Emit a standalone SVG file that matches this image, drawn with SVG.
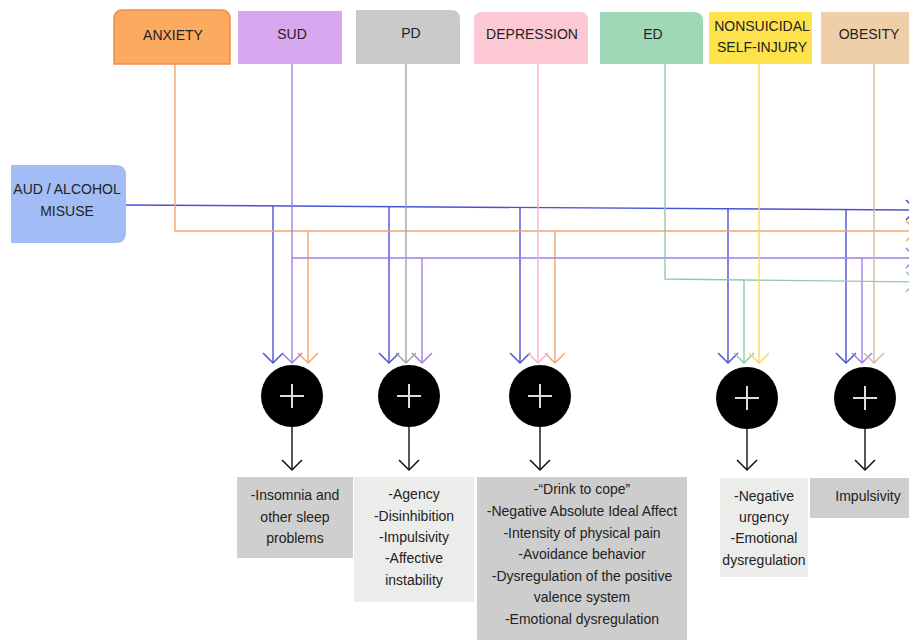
<svg xmlns="http://www.w3.org/2000/svg" width="909" height="640" viewBox="0 0 909 640">
<style>
text{font-family:"Liberation Sans",Arial,sans-serif;font-size:14px;fill:#222;text-anchor:middle}
.c{fill:none;stroke-width:1.4}
.blue{stroke:#4b50d4}.orange{stroke:#f6a56c}.purple{stroke:#a07ee6}.gray{stroke:#a3a3a3}.pink{stroke:#f2b4cb}.green{stroke:#8fcca3}.yellow{stroke:#fcd763}.tan{stroke:#d8b99b}.black{stroke:#111}
</style>
<defs>
<marker id="mBlue" viewBox="-12 -12 24 24" refX="0" refY="0" markerWidth="24" markerHeight="24" markerUnits="userSpaceOnUse" orient="auto"><path d="M-10,-10 L0,0 L-10,10" fill="none" stroke="#4b50d4" stroke-width="1.5"/></marker>
<marker id="mOrange" viewBox="-12 -12 24 24" refX="0" refY="0" markerWidth="24" markerHeight="24" markerUnits="userSpaceOnUse" orient="auto"><path d="M-10,-10 L0,0 L-10,10" fill="none" stroke="#f6a56c" stroke-width="1.5"/></marker>
<marker id="mPurple" viewBox="-12 -12 24 24" refX="0" refY="0" markerWidth="24" markerHeight="24" markerUnits="userSpaceOnUse" orient="auto"><path d="M-10,-10 L0,0 L-10,10" fill="none" stroke="#a07ee6" stroke-width="1.5"/></marker>
<marker id="mGray" viewBox="-12 -12 24 24" refX="0" refY="0" markerWidth="24" markerHeight="24" markerUnits="userSpaceOnUse" orient="auto"><path d="M-10,-10 L0,0 L-10,10" fill="none" stroke="#a3a3a3" stroke-width="1.5"/></marker>
<marker id="mPink" viewBox="-12 -12 24 24" refX="0" refY="0" markerWidth="24" markerHeight="24" markerUnits="userSpaceOnUse" orient="auto"><path d="M-10,-10 L0,0 L-10,10" fill="none" stroke="#f2b4cb" stroke-width="1.5"/></marker>
<marker id="mGreen" viewBox="-12 -12 24 24" refX="0" refY="0" markerWidth="24" markerHeight="24" markerUnits="userSpaceOnUse" orient="auto"><path d="M-10,-10 L0,0 L-10,10" fill="none" stroke="#8fcca3" stroke-width="1.5"/></marker>
<marker id="mYellow" viewBox="-12 -12 24 24" refX="0" refY="0" markerWidth="24" markerHeight="24" markerUnits="userSpaceOnUse" orient="auto"><path d="M-10,-10 L0,0 L-10,10" fill="none" stroke="#fcd763" stroke-width="1.5"/></marker>
<marker id="mTan" viewBox="-12 -12 24 24" refX="0" refY="0" markerWidth="24" markerHeight="24" markerUnits="userSpaceOnUse" orient="auto"><path d="M-10,-10 L0,0 L-10,10" fill="none" stroke="#d8b99b" stroke-width="1.5"/></marker>
<marker id="mBlack" viewBox="-12 -12 24 24" refX="0" refY="0" markerWidth="24" markerHeight="24" markerUnits="userSpaceOnUse" orient="auto"><path d="M-10,-10 L0,0 L-10,10" fill="none" stroke="#111" stroke-width="1.5"/></marker>
</defs>
<rect width="909" height="640" fill="#fff"/>

<g id="connectors">
  <!-- AUD blue trunk -->
  <path class="c blue" d="M126,205 L916,210" marker-end="url(#mBlue)"/>
  <path class="c blue" d="M273,206 V363" marker-end="url(#mBlue)"/>
  <path class="c blue" d="M389,206.7 V363" marker-end="url(#mBlue)"/>
  <path class="c blue" d="M520,207.5 V363" marker-end="url(#mBlue)"/>
  <path class="c blue" d="M728,208.8 V363" marker-end="url(#mBlue)"/>
  <path class="c blue" d="M846,209.6 V363" marker-end="url(#mBlue)"/>
  <!-- Anxiety orange -->
  <path class="c orange" d="M175,64 V231 H916" marker-end="url(#mOrange)"/>
  <path class="c orange" d="M308,231 V363" marker-end="url(#mOrange)"/>
  <path class="c orange" d="M555,231 V363" marker-end="url(#mOrange)"/>
  <!-- SUD purple -->
  <path class="c purple" d="M292,64 V363" marker-end="url(#mPurple)"/>
  <path class="c purple" d="M292,258 H916" marker-end="url(#mPurple)"/>
  <path class="c purple" d="M422,258 V363" marker-end="url(#mPurple)"/>
  <path class="c purple" d="M862,258 V363" marker-end="url(#mPurple)"/>
  <!-- PD gray -->
  <path class="c gray" d="M406,64 V363" marker-end="url(#mGray)"/>
  <!-- Depression pink -->
  <path class="c pink" d="M538,64 V363" marker-end="url(#mPink)"/>
  <!-- ED green -->
  <path class="c green" d="M665,64 V279 L916,282" marker-end="url(#mGreen)"/>
  <path class="c green" d="M744,280 V363" marker-end="url(#mGreen)"/>
  <!-- NSSI yellow -->
  <path class="c yellow" d="M759,64 V363" marker-end="url(#mYellow)"/>
  <!-- Obesity tan -->
  <path class="c tan" d="M874,64 V363" marker-end="url(#mTan)"/>
  <!-- outputs -->
  <path class="c black" d="M292,427 V470" marker-end="url(#mBlack)"/>
  <path class="c black" d="M409,427 V470" marker-end="url(#mBlack)"/>
  <path class="c black" d="M540,427 V470" marker-end="url(#mBlack)"/>
  <path class="c black" d="M747,429 V470" marker-end="url(#mBlack)"/>
  <path class="c black" d="M865,429 V470" marker-end="url(#mBlack)"/>
</g>

<g id="anxiety">
  <path d="M114,64 V19 Q114,10 123,10 H221 Q230,10 230,19 V64 Z" fill="#fcaa5f" stroke="#f38b52" stroke-width="1.5"/>
  <text x="173" y="40">ANXIETY</text>
</g>
<g id="sud">
  <rect x="238" y="11" width="104" height="53" fill="#d7a8ef"/>
  <text x="292" y="39">SUD</text>
</g>
<g id="pd">
  <path d="M356,64 V10 H451 Q460,10 460,19 V64 Z" fill="#cacacc"/>
  <text x="411" y="38">PD</text>
</g>
<g id="depression">
  <path d="M474,64 V20 Q474,12 482,12 H580 Q588,12 588,20 V64 Z" fill="#fcc8d4"/>
  <text x="532" y="39">DEPRESSION</text>
</g>
<g id="ed">
  <path d="M600,64 V12 H694 Q703,12 703,21 V64 Z" fill="#9fd8b6"/>
  <text x="653" y="39">ED</text>
</g>
<g id="nssi">
  <rect x="709" y="12" width="103" height="52" fill="#fee24c"/>
  <text x="762" y="31">NONSUICIDAL</text>
  <text x="762" y="52">SELF-INJURY</text>
</g>
<g id="obesity">
  <rect x="821" y="12" width="92" height="52" fill="#efcfa9"/>
  <text x="869" y="39">OBESITY</text>
</g>
<g id="aud">
  <path d="M11,165 H116 Q126,165 126,175 V233 Q126,243 116,243 H11 Z" fill="#a2bdf5"/>
  <text x="67" y="194">AUD / ALCOHOL</text>
  <text x="67" y="216">MISUSE</text>
</g>

<g id="sum1"><circle cx="292" cy="396" r="31" fill="#000"/><path d="M280,396 H304 M292,384 V408" stroke="#ddd" stroke-width="2"/></g>
<g id="sum2"><circle cx="409" cy="396" r="31" fill="#000"/><path d="M397,396 H421 M409,384 V408" stroke="#ddd" stroke-width="2"/></g>
<g id="sum3"><circle cx="540" cy="396" r="31" fill="#000"/><path d="M528,396 H552 M540,384 V408" stroke="#ddd" stroke-width="2"/></g>
<g id="sum4"><circle cx="747" cy="398" r="31" fill="#000"/><path d="M735,398 H759 M747,386 V410" stroke="#ddd" stroke-width="2"/></g>
<g id="sum5"><circle cx="865" cy="398" r="31" fill="#000"/><path d="M853,398 H877 M865,386 V410" stroke="#ddd" stroke-width="2"/></g>

<g id="out1">
  <rect x="237" y="477" width="116" height="81" fill="#cfcfcf"/>
  <text x="295" y="500">-Insomnia and</text>
  <text x="295" y="522">other sleep</text>
  <text x="295" y="543">problems</text>
</g>
<g id="out2">
  <rect x="354" y="477" width="120" height="125" fill="#ececea"/>
  <text x="414" y="499">-Agency</text>
  <text x="414" y="521">-Disinhibition</text>
  <text x="414" y="542">-Impulsivity</text>
  <text x="414" y="563">-Affective</text>
  <text x="414" y="585">instability</text>
</g>
<g id="out3">
  <rect x="477" y="477" width="210" height="163" fill="#cdcdcd"/>
  <text x="582" y="494">-“Drink to cope”</text>
  <text x="582" y="516">-Negative Absolute Ideal Affect</text>
  <text x="582" y="538">-Intensity of physical pain</text>
  <text x="582" y="559">-Avoidance behavior</text>
  <text x="582" y="581">-Dysregulation of the positive</text>
  <text x="582" y="602">valence system</text>
  <text x="582" y="624">-Emotional dysregulation</text>
</g>
<g id="out4">
  <rect x="720" y="478" width="88" height="99" fill="#ececea"/>
  <text x="764" y="501">-Negative</text>
  <text x="764" y="522">urgency</text>
  <text x="764" y="543">-Emotional</text>
  <text x="764" y="565">dysregulation</text>
</g>
<g id="out5">
  <rect x="810" y="478" width="99" height="40" fill="#cecece"/>
  <text x="868" y="501">Impulsivity</text>
</g>
</svg>
